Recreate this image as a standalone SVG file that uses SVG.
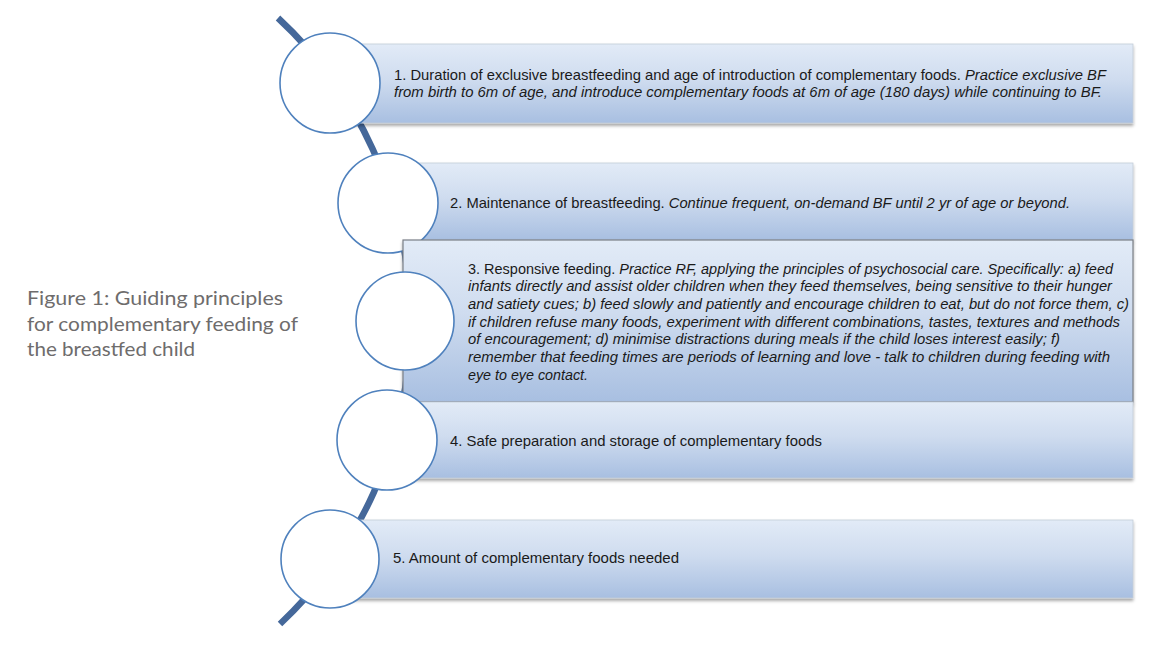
<svg xmlns="http://www.w3.org/2000/svg" width="1169" height="645" viewBox="0 0 1169 645">
<defs>
<linearGradient id="bg" x1="0" y1="0" x2="0" y2="1">
<stop offset="0" stop-color="#e2ebf7"/>
<stop offset="0.45" stop-color="#cfdcef"/>
<stop offset="1" stop-color="#a8bfe1"/>
</linearGradient>
<filter id="sh" x="-5%" y="-20%" width="110%" height="140%">
<feDropShadow dx="0" dy="2.5" stdDeviation="1.6" flood-color="#000" flood-opacity="0.35"/>
</filter>
</defs>
<style>
.box{fill:url(#bg);stroke:#c2ccd8;stroke-width:0.8;filter:url(#sh)}
.box3{fill:url(#bg);stroke:#7a7f86;stroke-width:1.2;filter:url(#sh)}
.ring{fill:#fff;stroke:#4f81bd;stroke-width:1.6}
.t{font-family:"Liberation Sans","Noto Sans",sans-serif;font-size:14.5px;fill:#1a1a1a}
.i{font-style:italic}
.cap{font-family:Lato,"Open Sans","Noto Sans",sans-serif;font-size:20px;fill:#6e6c6c}
.arc{fill:none;stroke:#45689a;stroke-width:6.5;stroke-linecap:butt}
</style>
<rect width="1169" height="645" fill="#fff"/>
<g id="connectors">
<path class="arc" d="M 278 18 A 415 415 0 0 1 280 624"/>
</g>
<g id="caption">
<text class="cap" x="27" y="305" textLength="256" lengthAdjust="spacingAndGlyphs">Figure 1: Guiding principles</text>
<text class="cap" x="27" y="331" textLength="271" lengthAdjust="spacingAndGlyphs">for complementary feeding of</text>
<text class="cap" x="27" y="356" textLength="168" lengthAdjust="spacingAndGlyphs">the breastfed child</text>
</g>
<g id="node1">
<rect class="box" x="330" y="44" width="803" height="79"/>
<circle class="ring" cx="330" cy="83" r="50"/>
<text class="t" x="394" y="80" textLength="712" lengthAdjust="spacingAndGlyphs">1. Duration of exclusive breastfeeding and age of introduction of complementary foods. <tspan class="i">Practice exclusive BF</tspan></text>
<text class="t i" x="394" y="97" textLength="708" lengthAdjust="spacingAndGlyphs">from birth to 6m of age, and introduce complementary foods at 6m of age (180 days) while continuing to BF.</text>
</g>
<g id="node2">
<rect class="box" x="388" y="163" width="745" height="77"/>
<circle class="ring" cx="388" cy="203" r="50"/>
<text class="t" x="450" y="208" textLength="620" lengthAdjust="spacingAndGlyphs">2. Maintenance of breastfeeding. <tspan class="i">Continue frequent, on-demand BF until 2 yr of age or beyond.</tspan></text>
</g>
<g id="node3">
<rect class="box3" x="403" y="240" width="730" height="162"/>
<circle class="ring" cx="405" cy="321" r="49"/>
<text class="t" x="468" y="274" textLength="645" lengthAdjust="spacingAndGlyphs">3. Responsive feeding. <tspan class="i">Practice RF, applying the principles of psychosocial care. Specifically: a) feed</tspan></text>
<text class="t i" x="468" y="291" textLength="644" lengthAdjust="spacingAndGlyphs">infants directly and assist older children when they feed themselves, being sensitive to their hunger</text>
<text class="t i" x="468" y="309" textLength="661" lengthAdjust="spacingAndGlyphs">and satiety cues; b) feed slowly and patiently and encourage children to eat, but do not force them, c)</text>
<text class="t i" x="468" y="327" textLength="652" lengthAdjust="spacingAndGlyphs">if children refuse many foods, experiment with different combinations, tastes, textures and methods</text>
<text class="t i" x="468" y="344" textLength="592" lengthAdjust="spacingAndGlyphs">of encouragement; d) minimise distractions during meals if the child loses interest easily; f)</text>
<text class="t i" x="468" y="362" textLength="642" lengthAdjust="spacingAndGlyphs">remember that feeding times are periods of learning and love - talk to children during feeding with</text>
<text class="t i" x="468" y="380" textLength="120" lengthAdjust="spacingAndGlyphs">eye to eye contact.</text>
</g>
<g id="node4">
<rect class="box" x="387" y="402" width="746" height="76"/>
<circle class="ring" cx="387" cy="440" r="50"/>
<text class="t" x="450" y="446" textLength="372" lengthAdjust="spacingAndGlyphs">4. Safe preparation and storage of complementary foods</text>
</g>
<g id="node5">
<rect class="box" x="330" y="520" width="803" height="78"/>
<circle class="ring" cx="330" cy="559" r="49"/>
<text class="t" x="393" y="563" textLength="286" lengthAdjust="spacingAndGlyphs">5. Amount of complementary foods needed</text>
</g>
</svg>
